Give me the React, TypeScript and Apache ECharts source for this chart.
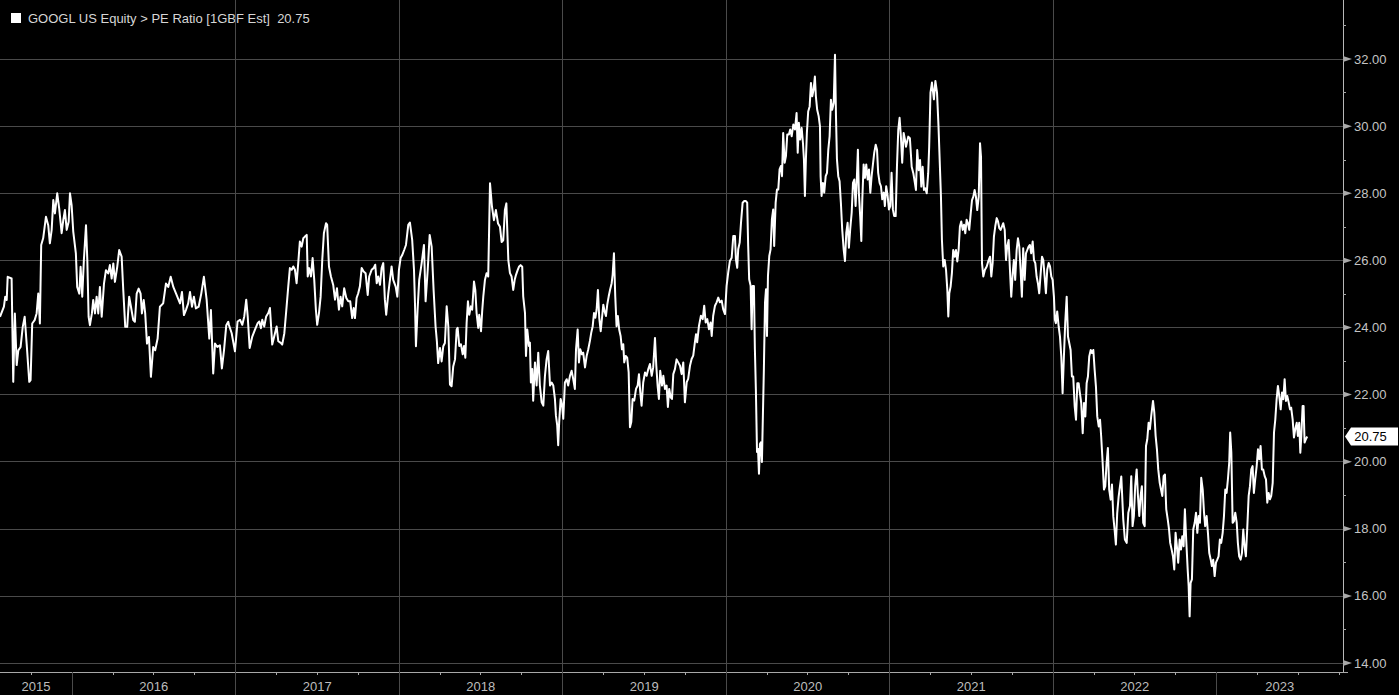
import React, { useEffect, useRef } from "react";
import * as echarts from "echarts";

const FONT = '"Liberation Sans", Arial, sans-serif';
const titleText = "GOOGL US Equity > PE Ratio [1GBF Est]";
const yearLabels = ["2015", "2016", "2017", "2018", "2019", "2020", "2021", "2022", "2023"];
const yTickValues = [14, 16, 18, 20, 22, 24, 26, 28, 30, 32];

// dates as decimal years, values = PE ratio
const datesPart1 = [
  2015.560, 2015.584, 2015.592, 2015.601, 2015.607, 2015.631, 2015.641, 2015.651, 2015.662, 2015.672,
  2015.686, 2015.699, 2015.711, 2015.723, 2015.739, 2015.747, 2015.757, 2015.772, 2015.784, 2015.794,
  2015.804, 2015.812, 2015.824, 2015.841, 2015.855, 2015.865, 2015.876, 2015.886, 2015.896, 2015.910,
  2015.922, 2015.937, 2015.947, 2015.957, 2015.968, 2015.980, 2015.988, 2015.998, 2016.008, 2016.024,
  2016.032, 2016.045, 2016.053, 2016.063, 2016.073, 2016.086, 2016.094, 2016.102, 2016.110, 2016.122,
  2016.130, 2016.141, 2016.151, 2016.161, 2016.171, 2016.182, 2016.196, 2016.208, 2016.222, 2016.232,
  2016.243, 2016.253, 2016.263, 2016.277, 2016.289, 2016.304, 2016.314, 2016.326, 2016.338, 2016.350,
  2016.361, 2016.375, 2016.385, 2016.396, 2016.408, 2016.420, 2016.428, 2016.439, 2016.448, 2016.459,
  2016.471, 2016.483, 2016.497, 2016.509, 2016.524, 2016.538, 2016.558, 2016.575, 2016.589, 2016.604,
  2016.620, 2016.640, 2016.661, 2016.673, 2016.685, 2016.697, 2016.711, 2016.722, 2016.734, 2016.746,
  2016.758, 2016.775, 2016.791, 2016.807, 2016.824, 2016.840, 2016.850, 2016.864, 2016.875, 2016.889,
  2016.905, 2016.917, 2016.930, 2016.944, 2016.956,
];
const pePart1 = [
  24.32, 24.62, 24.92, 24.82, 25.51, 25.46, 22.38, 24.42, 22.88, 23.32,
  23.42, 24.02, 24.32, 23.52, 22.38, 22.43, 24.12, 24.22, 24.42, 25.01,
  24.12, 26.46, 26.66, 27.30, 27.05, 26.51, 26.91, 27.80, 27.40, 28.00,
  27.55, 26.81, 27.20, 27.50, 26.91, 27.15, 28.00, 27.65, 26.86, 26.21,
  25.21, 25.01, 25.81, 24.92, 26.01, 27.05, 26.01, 24.32, 24.07, 24.42,
  24.82, 24.42, 24.92, 24.42, 25.21, 24.32, 25.31, 25.71, 25.61, 25.86,
  25.46, 25.91, 25.36, 25.81, 26.31, 26.11, 25.11, 24.02, 24.02, 24.92,
  24.62, 24.22, 24.17, 25.01, 25.16, 25.01, 24.42, 24.82, 24.42, 23.52,
  23.72, 22.53, 23.42, 23.32, 23.67, 24.62, 24.72, 25.31, 25.21, 25.51,
  25.21, 24.97, 24.72, 25.06, 24.37, 24.52, 24.72, 25.06, 24.62, 24.92,
  24.57, 24.62, 25.01, 25.51, 24.82, 23.67, 24.52, 22.63, 23.52, 23.42,
  23.47, 22.78, 23.32, 24.07, 24.17,
];

const datesPart2 = [
  2016.960, 2016.977, 2016.997, 2017.013, 2017.028, 2017.042, 2017.054, 2017.066, 2017.075, 2017.087,
  2017.103, 2017.119, 2017.136, 2017.146, 2017.156, 2017.164, 2017.176, 2017.188, 2017.201, 2017.211,
  2017.225, 2017.237, 2017.252, 2017.262, 2017.277, 2017.286, 2017.299, 2017.313, 2017.323, 2017.333,
  2017.344, 2017.354, 2017.364, 2017.374, 2017.384, 2017.394, 2017.405, 2017.415, 2017.425, 2017.436,
  2017.442, 2017.451, 2017.462, 2017.472, 2017.482, 2017.492, 2017.500, 2017.511, 2017.521, 2017.531,
  2017.541, 2017.554, 2017.561, 2017.572, 2017.584, 2017.598, 2017.609, 2017.621, 2017.633, 2017.643,
  2017.653, 2017.665, 2017.678, 2017.690, 2017.702, 2017.714, 2017.723, 2017.731, 2017.741, 2017.751,
  2017.761, 2017.772, 2017.784, 2017.796, 2017.809, 2017.818, 2017.833, 2017.845, 2017.855, 2017.864,
  2017.873, 2017.884, 2017.894, 2017.904, 2017.914, 2017.922, 2017.935, 2017.945, 2017.955, 2017.965,
  2017.980, 2017.990, 2018.000, 2018.010, 2018.020, 2018.032, 2018.043, 2018.057, 2018.067, 2018.081,
  2018.092, 2018.098, 2018.104, 2018.114, 2018.124, 2018.139, 2018.153, 2018.163, 2018.176, 2018.188,
  2018.200, 2018.212, 2018.224, 2018.232, 2018.240, 2018.251, 2018.261, 2018.271, 2018.281, 2018.292,
  2018.302, 2018.312, 2018.322, 2018.332, 2018.343,
];
const pePart2 = [
  24.08, 23.83, 23.29, 24.18, 24.23, 24.08, 24.33, 24.83, 24.33, 23.39,
  23.73, 23.93, 24.13, 24.18, 23.98, 24.23, 24.03, 24.33, 24.43, 24.58,
  23.49, 23.73, 24.03, 23.59, 23.54, 23.49, 23.83, 24.63, 25.22, 25.77,
  25.72, 25.82, 25.72, 25.32, 25.92, 26.56, 26.41, 26.66, 26.71, 26.76,
  25.52, 25.77, 25.52, 26.07, 25.42, 24.53, 24.08, 24.43, 24.92, 26.02,
  26.81, 27.11, 27.06, 25.82, 25.52, 25.27, 24.83, 25.17, 24.53, 24.92,
  24.63, 25.17, 24.88, 24.78, 24.78, 24.28, 24.58, 24.28, 24.88, 25.02,
  25.22, 25.77, 25.67, 25.62, 24.97, 25.52, 25.72, 25.77, 25.87, 25.32,
  25.52, 25.27, 25.77, 25.92, 24.83, 24.38, 25.02, 25.42, 25.82, 25.42,
  25.22, 24.92, 25.72, 26.07, 26.16, 26.31, 26.46, 27.06, 27.13, 26.61,
  25.72, 24.73, 23.44, 24.53, 25.42, 25.92, 26.46, 24.78, 25.72, 26.76,
  26.41, 25.12, 24.03, 23.59, 22.94, 23.39, 22.99, 23.44, 23.54, 24.63,
  24.03, 22.30, 22.25, 22.84, 23.05,
];

const datesPart3 = [
  2018.353, 2018.359, 2018.369, 2018.379, 2018.390, 2018.398, 2018.406, 2018.414, 2018.422, 2018.430,
  2018.440, 2018.448, 2018.459, 2018.467, 2018.475, 2018.485, 2018.491, 2018.502, 2018.509, 2018.516,
  2018.526, 2018.536, 2018.546, 2018.557, 2018.569, 2018.581, 2018.593, 2018.606, 2018.618, 2018.628,
  2018.638, 2018.648, 2018.657, 2018.669, 2018.679, 2018.689, 2018.699, 2018.708, 2018.716, 2018.726,
  2018.734, 2018.744, 2018.754, 2018.760, 2018.771, 2018.777, 2018.785, 2018.795, 2018.801, 2018.807,
  2018.815, 2018.821, 2018.832, 2018.842, 2018.852, 2018.862, 2018.873, 2018.883, 2018.893, 2018.903,
  2018.913, 2018.924, 2018.934, 2018.944, 2018.954, 2018.960, 2018.968, 2018.974, 2018.980, 2018.989,
  2018.997, 2019.005, 2019.015, 2019.026, 2019.035, 2019.046, 2019.056, 2019.066, 2019.076, 2019.083,
  2019.093, 2019.101, 2019.109, 2019.119, 2019.127, 2019.138, 2019.148, 2019.158, 2019.168, 2019.176,
  2019.185, 2019.193, 2019.201, 2019.209, 2019.217, 2019.225, 2019.234, 2019.242, 2019.250, 2019.258,
  2019.266, 2019.274, 2019.283, 2019.291, 2019.301, 2019.307, 2019.315, 2019.323, 2019.331, 2019.339,
  2019.347, 2019.356, 2019.364, 2019.372, 2019.378, 2019.387, 2019.396, 2019.405, 2019.413, 2019.421,
  2019.429, 2019.439, 2019.450, 2019.460, 2019.468, 2019.476, 2019.484, 2019.494, 2019.505, 2019.515,
  2019.525, 2019.535, 2019.546, 2019.555, 2019.566, 2019.574, 2019.582, 2019.590, 2019.598, 2019.609,
  2019.617, 2019.627, 2019.637, 2019.645, 2019.653, 2019.662, 2019.670, 2019.678, 2019.688, 2019.698,
  2019.708, 2019.719,
];
const pePart3 = [
  23.94, 23.99, 23.45, 23.50, 23.20, 23.45, 23.10, 24.14, 24.78, 24.38,
  24.63, 24.53, 25.37, 25.12, 24.43, 23.99, 24.38, 23.89, 24.48, 24.93,
  25.42, 25.62, 25.52, 28.30, 27.60, 27.20, 27.50, 27.10, 27.00, 26.55,
  26.60, 27.50, 27.70, 26.01, 25.62, 25.52, 25.12, 25.42, 25.57, 25.71,
  25.81, 25.86, 25.81, 24.93, 24.43, 23.15, 23.94, 23.45, 23.55, 22.36,
  22.76, 21.82, 22.96, 22.27, 23.25, 22.27, 21.77, 21.67, 22.56, 23.05,
  23.30, 22.27, 22.36, 22.27, 21.87, 21.38, 21.08, 20.49, 21.18, 21.87,
  21.72, 21.28, 22.36, 22.46, 22.27, 22.56, 22.71, 22.46, 22.17, 23.35,
  23.94, 22.96, 23.35, 23.20, 23.25, 22.81, 23.15, 23.35, 23.60, 23.84,
  24.04, 24.43, 24.29, 24.53, 25.12, 24.29, 23.89, 24.29, 24.68, 24.48,
  24.34, 24.68, 24.93, 25.12, 25.32, 25.57, 26.21, 24.93, 24.04, 24.34,
  23.94, 23.74, 23.35, 23.50, 22.96, 23.15, 23.10, 22.66, 21.03, 21.18,
  21.87, 21.82, 22.17, 22.27, 22.61, 22.07, 21.67, 22.36, 22.66, 22.56,
  22.76, 22.91, 22.56, 22.81, 23.69, 22.86, 22.27, 21.87, 22.71, 22.27,
  22.56, 22.17, 22.27, 21.63, 22.17, 21.92, 21.87, 22.61, 22.76, 23.05,
  22.96, 22.86,
];

const datesPart4 = [
  2019.729, 2019.739, 2019.749, 2019.760, 2019.769, 2019.780, 2019.790, 2019.800, 2019.810, 2019.817,
  2019.824, 2019.835, 2019.847, 2019.858, 2019.867, 2019.876, 2019.886, 2019.896, 2019.906, 2019.913,
  2019.922, 2019.933, 2019.943, 2019.953, 2019.963, 2019.974, 2019.983, 2019.994, 2020.004, 2020.014,
  2020.024, 2020.035, 2020.045, 2020.055, 2020.061, 2020.069, 2020.075, 2020.084, 2020.092, 2020.102,
  2020.112, 2020.122, 2020.130, 2020.136, 2020.142, 2020.151, 2020.157, 2020.163, 2020.171, 2020.177,
  2020.183, 2020.190, 2020.196, 2020.202, 2020.208, 2020.214, 2020.220, 2020.226, 2020.232, 2020.239,
  2020.245, 2020.251, 2020.257, 2020.265, 2020.273, 2020.281, 2020.289, 2020.295, 2020.304, 2020.312,
  2020.320, 2020.328, 2020.336, 2020.343, 2020.350, 2020.359, 2020.367, 2020.375, 2020.385, 2020.393,
  2020.402, 2020.412, 2020.422, 2020.432, 2020.439, 2020.446, 2020.454, 2020.463, 2020.471, 2020.477,
  2020.483, 2020.489, 2020.495, 2020.503, 2020.512, 2020.520, 2020.528, 2020.536, 2020.544, 2020.550,
  2020.558, 2020.567, 2020.575, 2020.579, 2020.585, 2020.593, 2020.601, 2020.610, 2020.618, 2020.626,
  2020.634, 2020.642, 2020.650, 2020.659, 2020.667, 2020.673, 2020.679, 2020.687, 2020.695, 2020.703,
  2020.711, 2020.720, 2020.728, 2020.736, 2020.744, 2020.752, 2020.760, 2020.769, 2020.777, 2020.785,
  2020.793, 2020.801, 2020.807, 2020.813, 2020.821, 2020.828, 2020.834, 2020.842, 2020.850, 2020.858,
  2020.867, 2020.875, 2020.883, 2020.891, 2020.899, 2020.907, 2020.916, 2020.924, 2020.931, 2020.940,
  2020.948, 2020.956, 2020.965, 2020.972, 2020.980, 2020.989, 2020.997, 2021.005, 2021.013, 2021.021,
  2021.029, 2021.038, 2021.046, 2021.054, 2021.062, 2021.070, 2021.078, 2021.087, 2021.095,
];
const pePart4 = [
  22.61, 22.96, 21.77, 22.37, 22.47, 22.86, 23.06, 23.16, 23.56, 23.80,
  23.56, 24.05, 24.35, 24.25, 24.65, 24.15, 24.25, 23.95, 24.15, 23.75,
  24.35, 24.65, 24.75, 24.89, 24.75, 24.80, 24.55, 24.40, 25.24, 25.64,
  25.98, 26.08, 26.73, 26.73, 26.03, 25.78, 26.33, 26.53, 27.12, 27.72,
  27.77, 27.77, 27.72, 26.43, 25.44, 25.24, 23.95, 25.24, 25.24, 23.36,
  22.17, 20.29, 20.38, 19.64, 20.53, 20.58, 19.99, 21.38, 22.76, 24.75,
  25.14, 23.75, 25.54, 26.13, 26.33, 27.22, 27.52, 26.43, 27.72, 28.11,
  28.11, 28.71, 28.81, 28.51, 29.80, 28.91, 29.11, 29.75, 29.75, 29.90,
  29.70, 30.05, 29.90, 30.39, 29.21, 30.10, 29.60, 29.95, 29.50, 29.01,
  27.92, 29.01, 29.80, 30.44, 30.59, 31.29, 30.89, 31.09, 31.48, 30.89,
  30.49, 30.30, 30.00, 28.51, 27.92, 28.31, 28.02, 28.51, 28.61, 29.30,
  29.70, 30.79, 30.49, 30.69, 32.13, 30.30, 29.01, 28.51, 28.36, 27.72,
  26.93, 26.33, 25.98, 26.83, 27.12, 26.38, 26.93, 27.42, 28.31, 28.41,
  27.62, 28.51, 29.30, 28.02, 27.32, 26.58, 27.82, 28.86, 28.46, 28.86,
  28.41, 28.71, 28.02, 28.51, 28.86, 29.21, 29.45, 29.30, 28.61, 28.31,
  28.21, 27.82, 28.02, 27.62, 28.21, 27.92, 27.52, 27.62, 28.61, 27.52,
  27.32, 27.32, 28.81, 29.90, 30.25, 29.70, 28.91, 29.80, 29.60,
];

const datesPart5 = [
  2021.101, 2021.115, 2021.125, 2021.136, 2021.146, 2021.156, 2021.162, 2021.170, 2021.179, 2021.187,
  2021.195, 2021.203, 2021.211, 2021.219, 2021.228, 2021.237, 2021.243, 2021.251, 2021.260, 2021.272,
  2021.281, 2021.291, 2021.300, 2021.315, 2021.321, 2021.329, 2021.338, 2021.346, 2021.354, 2021.360,
  2021.366, 2021.374, 2021.382, 2021.390, 2021.399, 2021.407, 2021.415, 2021.423, 2021.431, 2021.439,
  2021.448, 2021.456, 2021.464, 2021.472, 2021.480, 2021.488, 2021.497, 2021.505, 2021.513, 2021.521,
  2021.529, 2021.537, 2021.546, 2021.554, 2021.560, 2021.566, 2021.574, 2021.584, 2021.595, 2021.604,
  2021.615, 2021.623, 2021.631, 2021.639, 2021.647, 2021.656, 2021.664, 2021.672, 2021.680, 2021.688,
  2021.696, 2021.705, 2021.713, 2021.720, 2021.729, 2021.737, 2021.745, 2021.754, 2021.761, 2021.769,
  2021.778, 2021.786, 2021.794, 2021.802, 2021.810, 2021.818, 2021.827, 2021.835, 2021.843, 2021.851,
  2021.859, 2021.867, 2021.876, 2021.884, 2021.892, 2021.900, 2021.908, 2021.916, 2021.925, 2021.933,
  2021.941, 2021.949, 2021.957, 2021.965, 2021.974, 2021.982, 2021.990, 2021.998, 2022.006, 2022.012,
  2022.018, 2022.026, 2022.035, 2022.043, 2022.051, 2022.059, 2022.067, 2022.075, 2022.084, 2022.092,
  2022.100, 2022.108, 2022.116, 2022.124, 2022.133, 2022.141, 2022.149, 2022.157, 2022.165, 2022.173,
  2022.182, 2022.190, 2022.198, 2022.206, 2022.214, 2022.222, 2022.231, 2022.239, 2022.247, 2022.255,
  2022.263, 2022.271, 2022.280, 2022.288, 2022.295, 2022.304, 2022.312, 2022.320, 2022.328, 2022.336,
  2022.344, 2022.353, 2022.361, 2022.369, 2022.377, 2022.385, 2022.393, 2022.402, 2022.410,
];
const pePart5 = [
  29.39, 29.69, 29.64, 28.79, 28.60, 28.30, 28.10, 29.29, 28.69, 28.99,
  28.20, 28.79, 28.10, 28.15, 28.00, 28.60, 29.39, 31.00, 31.30, 30.80,
  31.35, 31.00, 30.00, 27.90, 26.61, 25.82, 26.01, 25.72, 25.12, 24.33,
  25.02, 25.22, 25.62, 26.31, 26.11, 26.31, 25.97, 26.31, 27.01, 27.16,
  26.91, 27.06, 26.81, 27.21, 27.11, 26.91, 27.40, 27.80, 27.90, 28.10,
  27.90, 27.50, 27.90, 29.49, 29.09, 25.92, 25.52, 25.72, 25.82, 25.97,
  26.11, 25.52, 25.92, 26.71, 27.01, 27.26, 27.16, 26.96, 26.91, 27.01,
  27.11, 26.91, 26.01, 26.41, 26.61, 25.72, 24.92, 25.62, 26.01, 25.42,
  26.31, 26.66, 26.41, 25.72, 24.92, 26.36, 25.42, 26.21, 26.31, 26.41,
  26.46, 26.21, 26.56, 26.01, 25.92, 25.52, 25.32, 25.02, 25.62, 26.11,
  26.01, 25.52, 25.02, 25.72, 25.92, 25.82, 25.52, 25.42, 24.92, 24.23,
  24.13, 24.48, 24.03, 23.73, 23.14, 22.04, 23.14, 24.13, 24.92, 23.73,
  23.53, 23.33, 22.54, 22.54, 21.65, 21.25, 22.34, 22.34, 22.04, 21.75,
  20.85, 21.75, 21.35, 22.34, 22.54, 23.14, 23.33, 23.24, 23.33, 22.74,
  22.24, 21.35, 21.05, 21.25, 20.75, 19.96, 19.17, 19.27, 19.96, 20.41,
  19.17, 18.87, 19.32, 18.37, 17.98, 17.53, 18.47, 18.97, 19.27,
];

const datesPart6 = [
  2022.418, 2022.430, 2022.440, 2022.451, 2022.461, 2022.471, 2022.479, 2022.487, 2022.495, 2022.503,
  2022.512, 2022.520, 2022.528, 2022.536, 2022.544, 2022.552, 2022.561, 2022.569, 2022.577, 2022.585,
  2022.593, 2022.601, 2022.612, 2022.620, 2022.628, 2022.636, 2022.644, 2022.653, 2022.661, 2022.669,
  2022.677, 2022.685, 2022.693, 2022.702, 2022.710, 2022.717, 2022.726, 2022.734, 2022.742, 2022.750,
  2022.758, 2022.766, 2022.775, 2022.783, 2022.791, 2022.799, 2022.807, 2022.815, 2022.824, 2022.830,
  2022.836, 2022.842, 2022.850, 2022.858, 2022.867, 2022.875, 2022.883, 2022.891, 2022.899, 2022.907,
  2022.916, 2022.924, 2022.931, 2022.940, 2022.948, 2022.956, 2022.965, 2022.972, 2022.980, 2022.989,
  2022.997, 2023.005, 2023.013, 2023.021, 2023.029, 2023.038, 2023.046, 2023.054, 2023.062, 2023.070,
  2023.078, 2023.084, 2023.091, 2023.099, 2023.107, 2023.115, 2023.124, 2023.131, 2023.139, 2023.148,
  2023.156, 2023.164, 2023.172, 2023.180, 2023.188, 2023.197, 2023.205, 2023.213, 2023.221, 2023.229,
  2023.237, 2023.246, 2023.254, 2023.262, 2023.270, 2023.278, 2023.286, 2023.295, 2023.303, 2023.311,
  2023.319, 2023.327, 2023.335, 2023.344, 2023.352, 2023.360, 2023.368, 2023.376, 2023.384, 2023.393,
  2023.401, 2023.409, 2023.417, 2023.425, 2023.433, 2023.442, 2023.450, 2023.457, 2023.466, 2023.474,
  2023.482, 2023.491, 2023.498, 2023.506, 2023.513, 2023.519, 2023.527, 2023.533, 2023.539, 2023.547,
  2023.555,
];
const pePart6 = [
  19.56, 18.28, 17.68, 17.58, 18.48, 18.68, 19.57, 18.08, 18.38, 19.27,
  19.77, 18.98, 18.38, 18.98, 19.27, 18.18, 18.08, 20.47, 20.67, 21.16,
  20.97, 21.36, 21.81, 21.46, 20.77, 20.37, 19.77, 19.37, 19.17, 18.98,
  19.57, 19.62, 18.58, 18.28, 17.98, 17.58, 17.38, 17.18, 16.79, 17.88,
  17.48, 16.99, 17.68, 17.38, 17.78, 17.48, 18.58, 17.68, 16.79, 16.29,
  15.39, 16.39, 16.49, 17.98, 18.18, 18.48, 17.88, 18.38, 18.18, 19.52,
  19.17, 18.48, 18.08, 18.38, 17.88, 17.28, 17.08, 16.89, 17.08, 16.59,
  16.99, 17.08, 17.18, 17.68, 17.58, 17.88, 18.38, 19.17, 19.07, 19.47,
  19.97, 20.87, 20.27, 18.18, 18.23, 18.48, 18.18, 17.58, 17.18, 17.08,
  17.28, 17.98, 17.48, 17.18, 17.98, 18.98, 19.27, 19.77, 19.87, 19.07,
  19.47, 19.87, 20.37, 20.07, 20.47, 19.77, 19.77, 19.57, 19.47, 18.78,
  19.07, 18.88, 18.98, 19.37, 20.87, 21.26, 21.86, 22.26, 21.96, 21.56,
  22.06, 21.86, 22.46, 21.81, 21.96, 21.76, 21.56, 21.61, 21.26, 20.72,
  20.97, 21.16, 20.77, 21.16, 20.27, 20.77, 21.66, 21.66, 20.57, 20.67,
  20.75,
];

const dates = [...datesPart1, ...datesPart2, ...datesPart3, ...datesPart4, ...datesPart5, ...datesPart6];
const peRatio = [...pePart1, ...pePart2, ...pePart3, ...pePart4, ...pePart5, ...pePart6];

const X_MIN = 2015.56;
const X_MAX = 2023.774;
const Y_MIN = 13.732;
const Y_MAX = 34;

export default function App() {
  const ref = useRef<HTMLDivElement>(null);
  useEffect(() => {
    document.body.style.margin = "0";
    document.body.style.background = "#000";
    document.body.style.overflow = "hidden";
    const chart = echarts.init(ref.current as HTMLDivElement, null, { renderer: "svg" });
    const last = peRatio[peRatio.length - 1];
    const yearNums = yearLabels.map(Number);
    const labelPositions = yearNums.map((y) => {
      const a = Math.max(y, X_MIN);
      const b = Math.min(y + 1, X_MAX);
      return (a + b) / 2;
    });
    const yearStarts = yearNums.filter((y) => y > X_MIN && y < X_MAX);
    const gray = "#4a4a4a";
    chart.setOption({
      animation: false,
      backgroundColor: "#000",
      grid: { left: 0, right: 56, top: 0, bottom: 23, outerBoundsMode: "none" },
      xAxis: {
        type: "value",
        min: X_MIN,
        max: X_MAX,
        minInterval: 1,
        maxInterval: 1,
        position: "bottom",
        axisLine: { show: true, onZero: false, lineStyle: { color: "#a8a8a8", width: 1 } },
        axisTick: { show: true, customValues: yearStarts, length: 23, inside: false, lineStyle: { color: gray, width: 1 } },
        minorTick: { show: true, splitNumber: 4, length: 3, lineStyle: { color: "#a8a8a8", width: 1 } },
        axisLabel: {
          show: true,
          customValues: labelPositions,
          formatter: (v: number) => yearLabels[yearNums.indexOf(Math.floor(v + 1e-9))] ?? "",
          color: "#bdbdbd",
          fontSize: 13,
          fontFamily: FONT,
          margin: 8,
          hideOverlap: false,
        },
        splitLine: { show: true, showMinLine: false, showMaxLine: false, lineStyle: { color: gray, width: 1 } },
      },
      yAxis: {
        type: "value",
        position: "right",
        min: Y_MIN,
        max: Y_MAX,
        minInterval: 2,
        maxInterval: 2,
        axisLine: { show: true, lineStyle: { color: "#b8b8b8", width: 1 } },
        axisTick: { show: true, length: 5, lineStyle: { color: "#a8a8a8" } },
        minorTick: { show: true, splitNumber: 2, length: 3, lineStyle: { color: "#a8a8a8" } },
        axisLabel: {
          color: "#c4c4c4",
          fontSize: 13,
          fontFamily: FONT,
          margin: 11,
          showMinLabel: false,
          showMaxLabel: false,
          formatter: (v: number) => v.toFixed(2),
        },
        splitLine: { show: true, showMinLine: false, lineStyle: { color: gray, width: 1 } },
      },
      graphic: [
        { type: "rect", x: 11, y: 21, shape: { width: 10, height: 10 }, style: { fill: "#ffffff" } },
        {
          type: "text",
          x: 28,
          y: 26,
          style: {
            text: `${titleText}  ${last.toFixed(2)}`,
            fill: "#d6d6d6",
            font: `13px ${FONT}`,
            verticalAlign: "middle",
          },
        },
      ],
      series: [
        {
          type: "line",
          data: dates.map((d, i) => [d, peRatio[i]]),
          showSymbol: false,
          symbol: "none",
          lineStyle: { color: "#ffffff", width: 2, join: "round" },
          z: 3,
        },
        {
          type: "scatter",
          data: yTickValues.map((v) => [X_MAX, v]),
          symbol: "triangle",
          symbolRotate: -90,
          symbolSize: [6, 9],
          symbolOffset: [4.5, 0],
          itemStyle: { color: "#a8a8a8", opacity: 1 },
          clip: false,
          silent: true,
          z: 4,
        },
        {
          type: "scatter",
          data: [[X_MAX, last]],
          symbol: "path://M0,9L6,0L53,0L53,18L6,18Z",
          symbolSize: [53, 18],
          symbolOffset: [28.5, 0],
          itemStyle: { color: "#ffffff", opacity: 1 },
          label: {
            show: true,
            position: "inside",
            offset: [-1, 0],
            formatter: () => last.toFixed(2),
            color: "#000000",
            fontSize: 13,
            fontFamily: FONT,
          },
          clip: false,
          silent: true,
          z: 5,
        },
      ],
    });
    return () => chart.dispose();
  }, []);
  return <div ref={ref} style={{ position: "absolute", left: 0, top: -8, width: 1399, height: 703 }} />;
}
